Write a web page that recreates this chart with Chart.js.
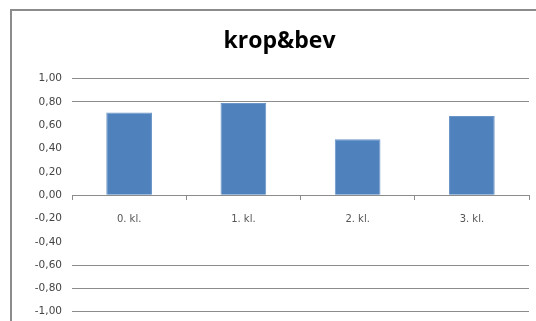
<!DOCTYPE html>
<html>
<head>
<meta charset="utf-8">
<script src="https://cdn.jsdelivr.net/npm/chart.js@4"></script>
<style>
  html, body { margin: 0; padding: 0; background: #fff; overflow: hidden; }
  #wrap { position: relative; width: 536px; height: 321px; overflow: hidden; }
</style>
</head>
<body>
<div id="wrap"><canvas id="myChart" width="536" height="328"></canvas></div>
<script>
const labels = ['0. kl.', '1. kl.', '2. kl.', '3. kl.'];
const values = [0.71, 0.79, 0.48, 0.68];
const yMin = -1;
const yMax = 1;
const yStep = 0.2;

// outer frame of the chart box (runs off the right and bottom edges)
const frame = {
    id: 'frame',
    beforeDraw(chart) {
        const c = chart.ctx;
        c.save();
        c.strokeStyle = '#8c8c8c';
        c.lineWidth = 2;
        c.beginPath();
        c.moveTo(11, 340);
        c.lineTo(11, 10);
        c.lineTo(540, 10);
        c.stroke();
        c.restore();
    }
};

const ctx = document.getElementById('myChart').getContext('2d');
const myChart = new Chart(ctx, {
    type: 'bar',
    data: {
        labels: labels,
        datasets: [{
            data: values,
            backgroundColor: '#4f81bd',
            borderColor: '#6a95c8',
            borderWidth: 1,
            barPercentage: 0.4,
            categoryPercentage: 1
        }]
    },
    plugins: [frame],
    options: {
        responsive: false,
        animation: false,
        layout: { padding: { left: 30, right: 7, top: 28, bottom: 4 } },
        plugins: {
            legend: { display: false },
            tooltip: { enabled: false },
            title: {
                display: true,
                text: 'krop&bev',
                color: '#000',
                font: { family: 'Open Sans', size: 23, weight: 'bold' },
                padding: { top: 0, bottom: 23 }
            }
        },
        scales: {
            x: {
                position: { y: 0 },
                afterFit(scale) { scale.height = 0; },
                grid: {
                    offset: true,
                    drawOnChartArea: false,
                    drawTicks: true,
                    tickLength: 4,
                    color: '#8c8c8c'
                },
                border: { color: '#8c8c8c', width: 1 },
                ticks: {
                    color: '#555',
                    padding: 14,
                    font: { family: 'DejaVu Sans', size: 10 }
                }
            },
            y: {
                min: yMin,
                max: yMax,
                afterFit(scale) { scale.width = 42; },
                grid: {
                    drawTicks: false,
                    color(c) {
                        const v = Math.round(c.tick.value * 10) / 10;
                        return (v >= 0.8 || v <= -0.6 || v === 0) ? '#8c8c8c' : 'rgba(0,0,0,0)';
                    }
                },
                border: { display: false },
                ticks: {
                    stepSize: yStep,
                    padding: 10,
                    color: '#444',
                    font: { family: 'DejaVu Sans', size: 10.5 },
                    callback: (v) => v.toFixed(2).replace('.', ',')
                }
            }
        }
    }
});
</script>
</body>
</html>
